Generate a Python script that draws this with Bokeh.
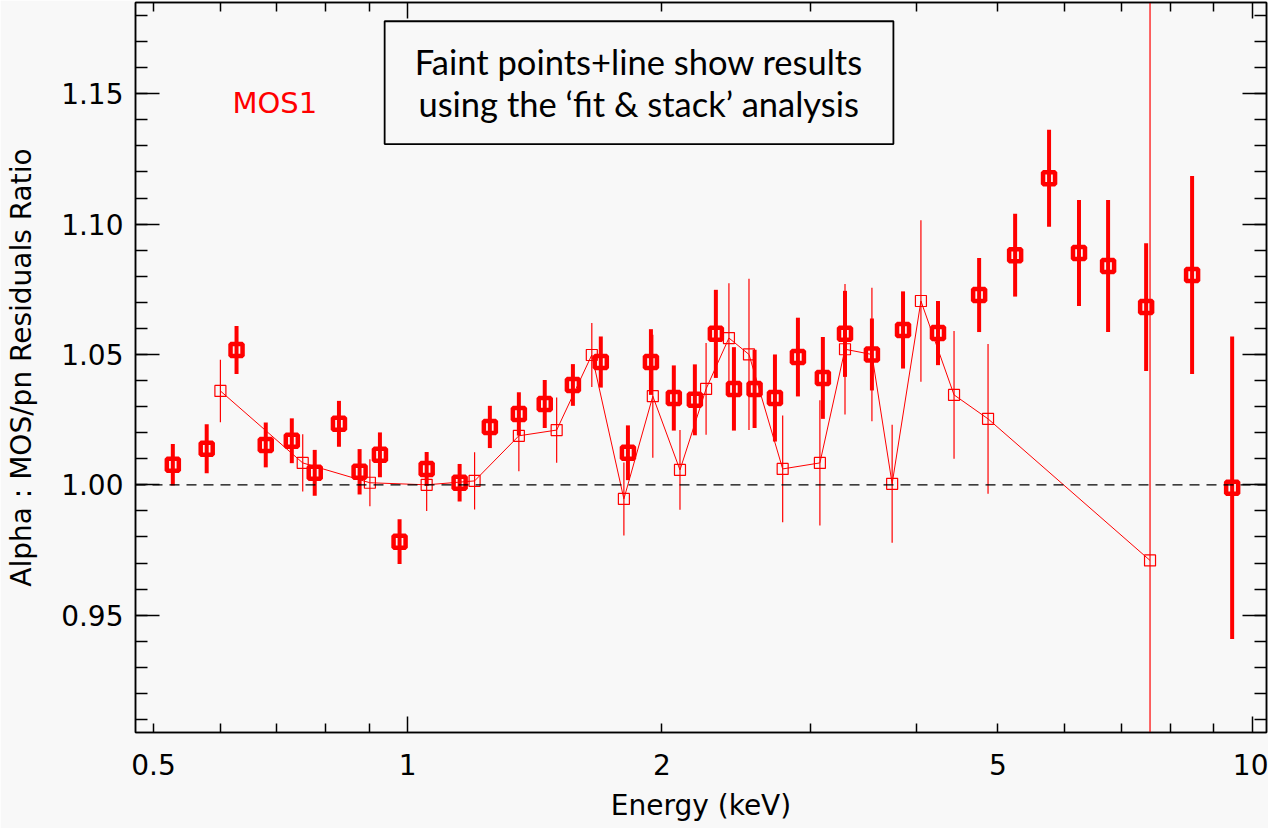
from bokeh.plotting import figure
from bokeh.models import (ColumnDataSource, FixedTicker, LogAxis, LinearAxis, Span,
                          BoxAnnotation, Label, Range1d, CustomJSTickFormatter)
from bokeh.embed import file_html
from bokeh.resources import INLINE

# ---- data: bold points (main analysis) ----
bold_energy = [0.527, 0.578, 0.627, 0.679, 0.729, 0.776, 0.829, 0.877, 0.927, 0.978,
               1.053, 1.152, 1.251, 1.354, 1.453, 1.569, 1.693, 1.823, 1.941, 2.066,
               2.188, 2.317, 2.434, 2.575, 2.722, 2.898, 3.102, 3.295, 3.546, 3.860,
               4.246, 4.750, 5.240, 5.748, 6.237, 6.752, 7.490, 8.490, 9.470]
bold_ratio = [1.0077, 1.0138, 1.0517, 1.0153, 1.0169, 1.0046, 1.0234, 1.0050, 1.0115, 0.9782,
              1.0061, 1.0008, 1.0222, 1.0272, 1.0310, 1.0383, 1.0471, 1.0123, 1.0471, 1.0333,
              1.0326, 1.0579, 1.0368, 1.0368, 1.0333, 1.0490, 1.0410, 1.0579, 1.0500, 1.0594,
              1.0582, 1.0728, 1.0881, 1.1176, 1.0889, 1.0839, 1.0682, 1.0805, 0.9989]
bold_error = [0.0080, 0.0094, 0.0092, 0.0086, 0.0086, 0.0088, 0.0088, 0.0087, 0.0086, 0.0086,
              0.0065, 0.0072, 0.0081, 0.0083, 0.0092, 0.0080, 0.0098, 0.0105, 0.0126, 0.0125,
              0.0136, 0.0169, 0.0160, 0.0150, 0.0167, 0.0151, 0.0157, 0.0165, 0.0138, 0.0148,
              0.0123, 0.0142, 0.0159, 0.0186, 0.0203, 0.0253, 0.0245, 0.0380, 0.0580]

# ---- data: faint points (fit & stack analysis) ----
faint_energy = [0.600, 0.751, 0.902, 1.053, 1.200, 1.354, 1.501, 1.652, 1.803, 1.951,
                2.101, 2.256, 2.401, 2.536, 2.780, 3.077, 3.295, 3.546, 3.747, 4.053,
                4.436, 4.867, 7.570]
faint_ratio = [1.0360, 1.0084, 1.0008, 1.0000, 1.0015, 1.0188, 1.0210, 1.0498, 0.9946, 1.0340,
               1.0057, 1.0368, 1.0563, 1.0500, 1.0061, 1.0084, 1.0520, 1.0500, 1.0004, 1.0705,
               1.0345, 1.0253, 0.9710]
faint_error = [0.0120, 0.0110, 0.0090, 0.0100, 0.0110, 0.0136, 0.0125, 0.0123, 0.0140, 0.0236,
               0.0153, 0.0176, 0.0210, 0.0290, 0.0205, 0.0240, 0.0250, 0.0256, 0.0226, 0.0310,
               0.0245, 0.0287, 0.3500]

# ---- ticks ----
x_label_ticks = [0.5, 1, 2, 5, 10]
x_tick_labels = ["0.5", "1", "2", "5", "10"]
x_long_ticks = [1, 10]
x_short_ticks = [0.5, 0.6, 0.7, 0.8, 0.9, 2, 3, 4, 5, 6, 7, 8, 9]
y_ticks = [0.95, 1.00, 1.05, 1.10, 1.15]
y_tick_labels = ["0.95", "1.00", "1.05", "1.10", "1.15"]
y_minor_ticks = [round(0.91 + 0.01 * i, 2) for i in range(28)]

RED = "#ff0000"
BG = "#f8f8f8"
TICK_FONT = "DejaVu Sans"

LABEL_JS = """
let best = 0, bd = Infinity;
for (let i = 0; i < tvals.length; i++) {
  const d = Math.abs(tvals[i] - tick);
  if (d < bd) { bd = d; best = i; }
}
return tlabs[best];
"""

p = figure(width=1268, height=828, x_axis_type="log",
           x_range=Range1d(0.476, 10.40), y_range=Range1d(0.905, 1.185),
           output_backend="svg", toolbar_location=None,
           x_axis_location=None, y_axis_location=None,
           min_border_left=135, min_border_right=2, min_border_top=2, min_border_bottom=96)
p.grid.visible = False
p.background_fill_color = BG
p.border_fill_color = BG
p.outline_line_color = "black"
p.outline_line_width = 1.5


def tick_style(ax, major_in, minor_in):
    ax.major_tick_in = major_in
    ax.major_tick_out = 0
    ax.minor_tick_in = minor_in
    ax.minor_tick_out = 0
    ax.major_tick_line_color = "black"
    ax.minor_tick_line_color = "black"
    ax.major_tick_line_width = 1.5
    ax.minor_tick_line_width = 1.5
    ax.axis_line_color = "black"
    ax.axis_line_width = 1.5


def hide_labels(ax):
    ax.major_label_text_font_size = "1px"
    ax.major_label_text_alpha = 0
    ax.major_label_standoff = 0


# bottom: ticks only (adjacent to frame)
ax_b_ticks = LogAxis(ticker=FixedTicker(ticks=x_long_ticks, minor_ticks=x_short_ticks))
tick_style(ax_b_ticks, 16, 9)
hide_labels(ax_b_ticks)
p.add_layout(ax_b_ticks, "below")

# bottom: labels only
ax_b_lab = LogAxis(ticker=FixedTicker(ticks=x_label_ticks, minor_ticks=[]),
                   formatter=CustomJSTickFormatter(
                       args=dict(tvals=x_label_ticks, tlabs=x_tick_labels), code=LABEL_JS))
ax_b_lab.major_tick_in = 0
ax_b_lab.major_tick_out = 0
ax_b_lab.minor_tick_in = 0
ax_b_lab.minor_tick_out = 0
ax_b_lab.major_tick_line_alpha = 0
ax_b_lab.minor_tick_line_alpha = 0
ax_b_lab.axis_line_alpha = 0
ax_b_lab.major_label_standoff = 21
ax_b_lab.major_label_text_font = TICK_FONT
ax_b_lab.major_label_text_font_size = "28px"
ax_b_lab.major_label_text_color = "black"
ax_b_lab.axis_label = "Energy (keV)"
ax_b_lab.axis_label_text_font = TICK_FONT
ax_b_lab.axis_label_text_font_style = "normal"
ax_b_lab.axis_label_text_font_size = "28px"
ax_b_lab.axis_label_text_color = "black"
ax_b_lab.axis_label_standoff = 11
p.add_layout(ax_b_lab, "below")

# top
ax_t = LogAxis(ticker=FixedTicker(ticks=x_long_ticks, minor_ticks=x_short_ticks))
tick_style(ax_t, 16, 9)
hide_labels(ax_t)
p.add_layout(ax_t, "above")

# left
ax_l = LinearAxis(ticker=FixedTicker(ticks=y_ticks, minor_ticks=y_minor_ticks),
                  formatter=CustomJSTickFormatter(
                      args=dict(tvals=y_ticks, tlabs=y_tick_labels), code=LABEL_JS))
tick_style(ax_l, 24, 12)
ax_l.major_label_standoff = 12
ax_l.major_label_text_font = TICK_FONT
ax_l.major_label_text_font_size = "28px"
ax_l.major_label_text_color = "black"
ax_l.axis_label = "Alpha : MOS/pn Residuals Ratio"
ax_l.axis_label_text_font = TICK_FONT
ax_l.axis_label_text_font_style = "normal"
ax_l.axis_label_text_font_size = "28px"
ax_l.axis_label_text_color = "black"
ax_l.axis_label_standoff = 20
p.add_layout(ax_l, "left")

# right
ax_r = LinearAxis(ticker=FixedTicker(ticks=y_ticks, minor_ticks=y_minor_ticks))
tick_style(ax_r, 24, 12)
hide_labels(ax_r)
p.add_layout(ax_r, "right")

# reference line
p.add_layout(Span(location=1.0, dimension="width", line_color="black",
                  line_width=1.3, line_dash="10 7"))

# bold points
bold_src = ColumnDataSource(dict(
    x=bold_energy, y=bold_ratio,
    lo=[r - e for r, e in zip(bold_ratio, bold_error)],
    hi=[r + e for r, e in zip(bold_ratio, bold_error)]))
p.segment(x0="x", y0="lo", x1="x", y1="hi", source=bold_src,
          line_color=RED, line_width=4)
p.scatter("x", "y", source=bold_src, marker="square", size=12,
          line_color=RED, line_width=4.5, fill_alpha=0)

# faint points + line
faint_src = ColumnDataSource(dict(
    x=faint_energy, y=faint_ratio,
    lo=[r - e for r, e in zip(faint_ratio, faint_error)],
    hi=[r + e for r, e in zip(faint_ratio, faint_error)]))
p.line("x", "y", source=faint_src, line_color=RED, line_width=1)
p.segment(x0="x", y0="lo", x1="x", y1="hi", source=faint_src,
          line_color=RED, line_width=1.2)
p.scatter("x", "y", source=faint_src, marker="square", size=11,
          line_color=RED, line_width=1.2, fill_alpha=0)

# annotation box
p.add_layout(BoxAnnotation(left=0.939, right=3.76, bottom=1.1307, top=1.1778,
                           fill_alpha=0, line_color="black", line_alpha=1.0,
                           line_width=1.8))
p.add_layout(Label(x=1.878, y=1.1625, text="Faint points+line show results",
                   text_align="center", text_baseline="middle",
                   text_font="Lato", text_font_size="34.5px", text_color="black"))
p.add_layout(Label(x=1.878, y=1.1462, text="using the \u2018fit & stack\u2019 analysis",
                   text_align="center", text_baseline="middle",
                   text_font="Lato", text_font_size="34.5px", text_color="black"))

p.add_layout(Label(x=0.620, y=1.1464, text="MOS1", text_align="left",
                   text_baseline="middle", text_font=TICK_FONT,
                   text_font_size="29px", text_color=RED))

open("out.html", "w").write(file_html(p, INLINE))
